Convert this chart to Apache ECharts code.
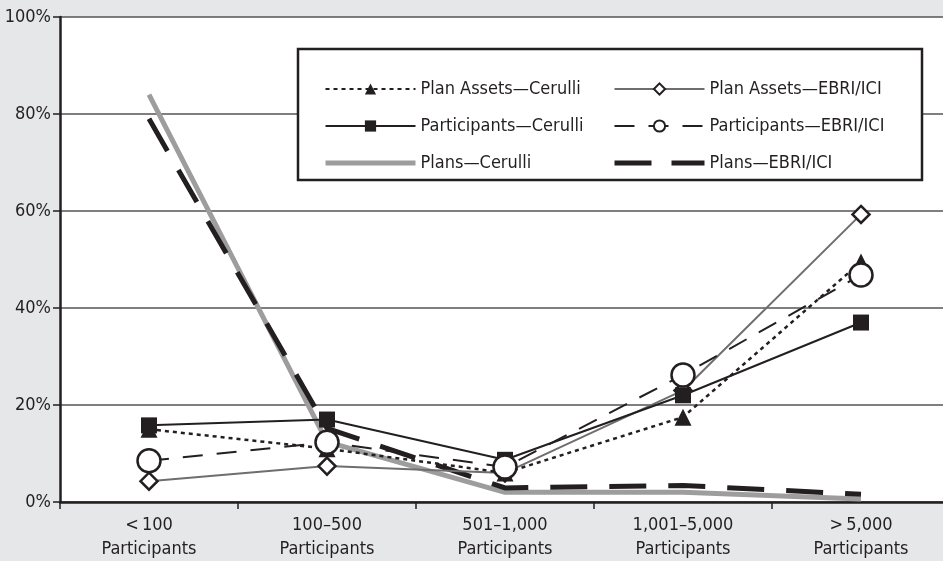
<!DOCTYPE html>
<html>
<head>
<meta charset="utf-8">
<script src="https://cdn.jsdelivr.net/npm/echarts@6/dist/echarts.min.js"></script>
<style>
  html, body { margin: 0; padding: 0; background: #e6e7e8; overflow: hidden; }
  /* plot runs a little past the right edge of the window, as in the original */
  #chart { width: 950px; height: 561px; }
</style>
</head>
<body>
<div id="chart"></div>
<script>
// plan size buckets
var categories = ['<\u2009100\nParticipants', '100\u2013500\nParticipants', '501\u20131,000\nParticipants', '1,001\u20135,000\nParticipants', '>\u20095,000\nParticipants']
var yTicks = [0, 20, 40, 60, 80, 100]

// shares, in percent
var planAssetsCerulli = [15, 11, 6, 17.5, 49.5]
var participantsCerulli = [15.8, 17, 8.7, 22, 37]
var plansCerulli = [84, 12.4, 2, 2, 0.6]
var planAssetsEbri = [4.3, 7.4, 6, 23, 59.3]
var participantsEbri = [8.5, 12.3, 7.2, 26.2, 46.8]
var plansEbri = [79, 15.2, 2.9, 3.4, 1.6]

var font = "'Liberation Sans Narrow', 'DejaVu Sans Condensed', sans-serif"
var ink = '#231f20'
var lightGray = '#9d9d9d'
var midGray = '#6e6e6e'

let myChart = echarts.init(document.getElementById('chart'))
let legendBase = {
  z: 20,
  orient: 'vertical',
  top: 75,
  itemGap: 19,
  itemWidth: 90,
  itemHeight: 14,
  textStyle: { fontFamily: font, fontSize: 18, color: ink }
}
let option = {
  backgroundColor: '#e6e7e8',
  animation: false,
  textStyle: { fontFamily: font, color: ink },
  grid: {
    left: 60,
    right: 0,
    top: 17,
    bottom: 59,
    show: true,
    backgroundColor: '#ffffff',
    borderWidth: 0
  },
  graphic: [{
    type: 'rect',
    z: 10,
    shape: { x: 298, y: 49, width: 624, height: 131 },
    style: { fill: '#ffffff', stroke: ink, lineWidth: 2.5 }
  }],
  legend: [
    Object.assign({}, legendBase, {
      left: 318,
      data: [
        'Plan Assets\u2014Cerulli',
        'Participants\u2014Cerulli',
        { name: 'Plans\u2014Cerulli', itemStyle: { opacity: 0 }, lineStyle: { color: lightGray, width: 5 } }
      ]
    }),
    Object.assign({}, legendBase, {
      left: 607,
      data: [
        'Plan Assets\u2014EBRI/ICI',
        'Participants\u2014EBRI/ICI',
        { name: 'Plans\u2014EBRI/ICI', itemStyle: { opacity: 0 }, lineStyle: { color: ink, width: 5, type: [37, 20] } }
      ]
    })
  ],
  xAxis: {
    type: 'category',
    data: categories,
    boundaryGap: true,
    axisLine: { lineStyle: { color: ink, width: 2.5 } },
    axisTick: { show: true, length: 7, lineStyle: { color: ink, width: 1.5 } },
    axisLabel: {
      fontFamily: font,
      fontSize: 18,
      color: ink,
      lineHeight: 24,
      margin: 11,
      interval: 0
    },
    splitLine: { show: false }
  },
  yAxis: {
    type: 'value',
    min: yTicks[0],
    max: yTicks[yTicks.length - 1],
    interval: 20,
    axisLine: { show: true, lineStyle: { color: ink, width: 2.5 } },
    axisTick: { show: true, length: 7, lineStyle: { color: ink, width: 1.5 } },
    axisLabel: {
      fontFamily: font,
      fontSize: 18,
      color: ink,
      margin: 9,
      formatter: '{value}%'
    },
    splitLine: { show: true, lineStyle: { color: '#555555', width: 1.5 } }
  },
  series: [
    {
      name: 'Plans\u2014Cerulli',
      type: 'line',
      data: plansCerulli,
      symbol: 'none',
      lineStyle: { color: lightGray, width: 5 },
      itemStyle: { color: lightGray },
      z: 2
    },
    {
      name: 'Plans\u2014EBRI/ICI',
      type: 'line',
      data: plansEbri,
      symbol: 'none',
      lineStyle: { color: ink, width: 5, type: [37, 22] },
      itemStyle: { color: ink },
      z: 3
    },
    {
      name: 'Plan Assets\u2014EBRI/ICI',
      type: 'line',
      data: planAssetsEbri,
      symbol: 'diamond',
      symbolSize: 17,
      lineStyle: { color: midGray, width: 2 },
      itemStyle: { color: '#ffffff', borderColor: ink, borderWidth: 2.5 },
      z: 4
    },
    {
      name: 'Plan Assets\u2014Cerulli',
      type: 'line',
      data: planAssetsCerulli,
      symbol: 'triangle',
      symbolSize: 17,
      lineStyle: { color: ink, width: 2.5, type: [4, 4] },
      itemStyle: { color: ink },
      z: 5
    },
    {
      name: 'Participants\u2014Cerulli',
      type: 'line',
      data: participantsCerulli,
      symbol: 'rect',
      symbolSize: 16,
      lineStyle: { color: ink, width: 2 },
      itemStyle: { color: ink },
      z: 6
    },
    {
      name: 'Participants\u2014EBRI/ICI',
      type: 'line',
      data: participantsEbri,
      symbol: 'circle',
      symbolSize: 23,
      lineStyle: { color: ink, width: 2, type: [20, 14] },
      itemStyle: { color: '#ffffff', borderColor: ink, borderWidth: 2.5 },
      z: 7
    }
  ]
}
myChart.setOption(option)
</script>
</body>
</html>
